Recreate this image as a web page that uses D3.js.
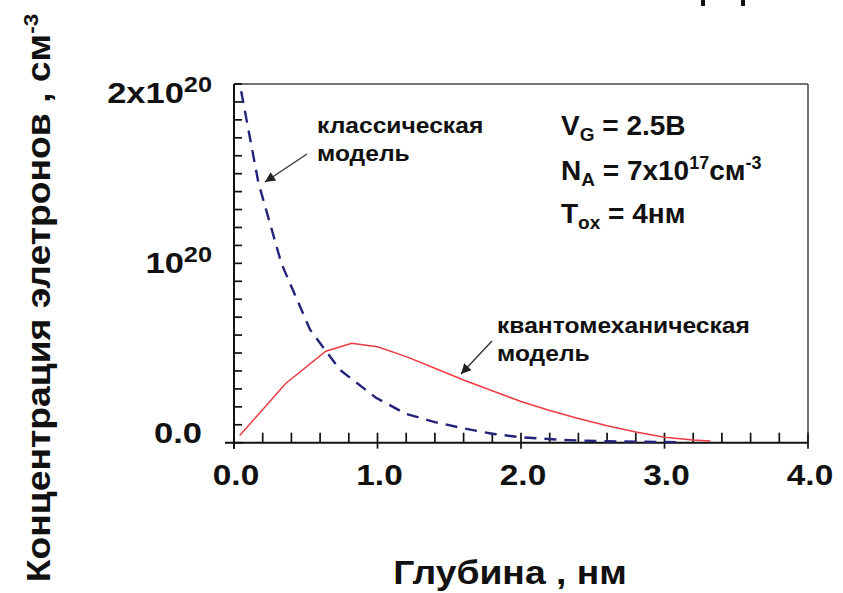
<!DOCTYPE html>
<html><head><meta charset="utf-8">
<script src="https://cdn.jsdelivr.net/npm/d3@7"></script>
<style>
html,body{margin:0;padding:0;background:#fff;}
svg{display:block;}
text{font-family:"Liberation Sans",Arial,sans-serif;font-weight:bold;fill:#111;}
</style></head><body>
<svg id="c" width="843" height="593"></svg>
<script>
// depth, nm ; concentration in units of 1e20 cm^-3
const classicDepth = [0.05, 0.17, 0.33, 0.53, 0.74, 0.99, 1.2, 1.4, 1.6, 1.8, 2.0, 2.3, 2.6, 3.0, 3.08];
const classicConc  = [1.96, 1.45, 1.0, 0.63, 0.405, 0.25, 0.16, 0.115, 0.08, 0.05, 0.03, 0.015, 0.008, 0.004, 0.003];
const quantumDepth = [0.04, 0.36, 0.64, 0.82, 1.0, 1.2, 1.4, 1.6, 1.8, 2.0, 2.2, 2.4, 2.6, 2.8, 3.0, 3.2, 3.32];
const quantumConc  = [0.04, 0.33, 0.51, 0.555, 0.535, 0.48, 0.415, 0.35, 0.29, 0.23, 0.18, 0.135, 0.095, 0.06, 0.03, 0.015, 0.01];
const xMajorTicks = [0, 1, 2, 3, 4];
const xTickLabels = ["0.0", "1.0", "2.0", "3.0", "4.0"];
const yMajorTicks = [0, 1, 2];
const yTickBase = ["0.0", "10", "2x10"];
const yTickSup  = ["", "20", "20"];
const xTitle = "Глубина , нм";
const yTitle = "Концентрация элетронов , см";
const yTitleSup = "-3";
const classicNote = ["классическая", "модель"];
const quantumNote = ["квантомеханическая", "модель"];

const svg = d3.select("#c");
const x = d3.scaleLinear().domain([0, 4]).range([234, 808]);
const y = d3.scaleLinear().domain([0, 2]).range([442.7, 84]);
const yLab = d3.scaleLinear().domain([0, 2]).range([443, 103]);

function stext(g, tx, ty, sx, anchor, size) {
  return g.append("text")
    .attr("transform", `translate(${tx},${ty}) scale(${sx},1)`)
    .attr("text-anchor", anchor).attr("font-size", size);
}

// frame top/right
svg.append("line").attr("x1", x(0)).attr("x2", x(4)).attr("y1", y(2)).attr("y2", y(2))
  .attr("stroke", "#444").attr("stroke-width", 1.5);
svg.append("line").attr("x1", x(4)).attr("x2", x(4)).attr("y1", y(2)).attr("y2", y(0))
  .attr("stroke", "#444").attr("stroke-width", 1.5);

// axes
svg.append("line").attr("x1", x(0) - 9).attr("x2", x(4)).attr("y1", y(0)).attr("y2", y(0))
  .attr("stroke", "#111").attr("stroke-width", 2);
svg.append("line").attr("x1", x(0)).attr("x2", x(0)).attr("y1", y(2)).attr("y2", y(0) + 6)
  .attr("stroke", "#111").attr("stroke-width", 2);

// x ticks
svg.append("g").selectAll("line").data(x.ticks(20)).join("line")
  .attr("x1", d => x(d)).attr("x2", d => x(d))
  .attr("y1", y(0) - 10)
  .attr("y2", d => xMajorTicks.some(m => Math.abs(m - d) < 1e-9) ? y(0) + 6 : y(0))
  .attr("stroke", "#111").attr("stroke-width", 1.7);
// y ticks
svg.append("g").selectAll("line").data(y.ticks(20)).join("line")
  .attr("x1", x(0)).attr("x2", x(0) + 8)
  .attr("y1", d => y(d)).attr("y2", d => y(d))
  .attr("stroke", "#111").attr("stroke-width", 1.7);

// x tick labels
xMajorTicks.forEach((t, i) => {
  stext(svg, x(t) + 2, 485, 1.15, "middle", 29).text(xTickLabels[i]);
});
// y tick labels
yMajorTicks.forEach((t, i) => {
  const tx = stext(svg, yTickSup[i] ? 212 : 202, yLab(t), 1.15, "end", 30);
  tx.append("tspan").text(yTickBase[i]);
  if (yTickSup[i]) tx.append("tspan").attr("dy", -11).attr("font-size", 22).text(yTickSup[i]);
});

// axis titles
stext(svg, 510, 584, 1.13, "middle", 33).text(xTitle);
const yt = svg.append("text").attr("transform", "translate(50,298) rotate(-90) scale(1.13,1)")
  .attr("text-anchor", "middle").attr("font-size", 33);
yt.append("tspan").text(yTitle);
yt.append("tspan").attr("dy", -12).attr("font-size", 20).text(yTitleSup);

// curves
const line = d3.line().x(d => x(d[0])).y(d => y(d[1]));
svg.append("path").datum(quantumDepth.map((d, i) => [d, quantumConc[i]]))
  .attr("d", line).attr("fill", "none").attr("stroke", "#ee3b45").attr("stroke-width", 1.5);
svg.append("path").datum(classicDepth.map((d, i) => [d, classicConc[i]]))
  .attr("d", line).attr("fill", "none").attr("stroke", "#23237a").attr("stroke-width", 2.4)
  .attr("stroke-dasharray", "12,8");

// arrows
svg.append("defs").append("marker").attr("id", "ah")
  .attr("viewBox", "0 0 10 10").attr("refX", 10).attr("refY", 5)
  .attr("markerWidth", 13).attr("markerHeight", 10).attr("markerUnits", "userSpaceOnUse")
  .attr("orient", "auto")
  .append("path").attr("d", "M0,0 L10,5 L0,10 z").attr("fill", "#222");
svg.append("line").attr("x1", 307).attr("y1", 154).attr("x2", 265).attr("y2", 182)
  .attr("stroke", "#333").attr("stroke-width", 1.4).attr("marker-end", "url(#ah)");
svg.append("line").attr("x1", 492).attr("y1", 341).attr("x2", 461).attr("y2", 374)
  .attr("stroke", "#333").attr("stroke-width", 1.4).attr("marker-end", "url(#ah)");

// annotations
classicNote.forEach((s, i) => stext(svg, 317, 133 + i * 28, 1.12, "start", 22).text(s));
quantumNote.forEach((s, i) => stext(svg, 497, 333 + i * 28, 1.12, "start", 22).text(s));

// parameters
function param(yb, main, sub, rest, sup, rest2, sup2) {
  const t = svg.append("text").attr("x", 561).attr("y", yb).attr("font-size", 28);
  t.append("tspan").text(main);
  t.append("tspan").attr("dy", 6).attr("font-size", 19).text(sub);
  t.append("tspan").attr("dy", -6).text(rest);
  if (sup) {
    t.append("tspan").attr("dy", -11).attr("font-size", 18).text(sup);
    t.append("tspan").attr("dy", 11).text(rest2);
    t.append("tspan").attr("dy", -11).attr("font-size", 18).text(sup2);
  }
}
param(135, "V", "G", " = 2.5В");
param(180, "N", "A", " = 7x10", "17", "см", "-3");
param(223, "T", "ox", " = 4нм");

// glyph stubs of a cut-off slide heading at the very top edge
svg.append("g").selectAll("rect").data([0, 1]).join("rect")
  .attr("x", d => 701 + d * 40).attr("y", 0).attr("width", 4).attr("height", 6).attr("fill", "#111");
</script>
</body></html>
